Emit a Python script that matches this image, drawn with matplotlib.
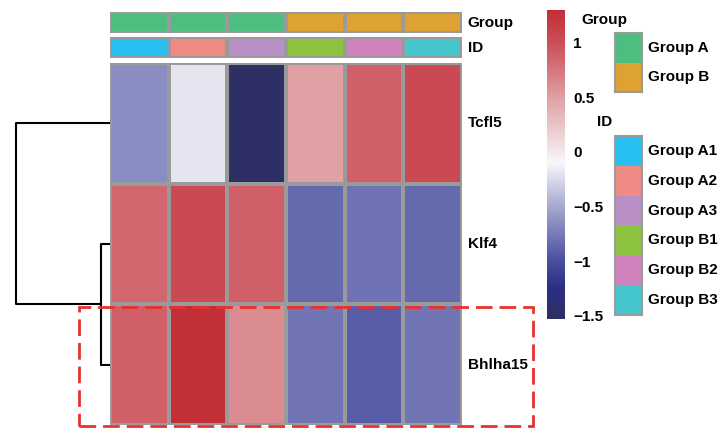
import numpy as np
import matplotlib.pyplot as plt
from matplotlib.colors import LinearSegmentedColormap, ListedColormap
from matplotlib.patches import Rectangle

plt.rcParams['font.family'] = ['Liberation Sans', 'DejaVu Sans']
plt.rcParams['font.weight'] = 'bold'

genes = ['Tcfl5', 'Klf4', 'Bhlha15']
samples = ['Group A1', 'Group A2', 'Group A3', 'Group B1', 'Group B2', 'Group B3']
sample_group = ['Group A', 'Group A', 'Group A', 'Group B', 'Group B', 'Group B']
values = np.array([
    [-0.65, -0.2, -1.5, 0.5, 0.9, 1.05],
    [0.85, 1.05, 0.9, -0.85, -0.8, -0.85],
    [0.9, 1.3, 0.62, -0.78, -0.92, -0.78],
])
group_names = ['Group A', 'Group B']
group_colors = ['#4dbd80', '#dda232']
id_colors = ['#26bff0', '#f08a85', '#b890c5', '#8dc33f', '#cf82bd', '#45c6cc']
# dendrogram merge heights: (Klf4, Bhlha15), then Tcfl5
merge_heights = [0.3, 3.0]
vmin, vmax = -1.53, 1.3
cbar_ticks = [1, 0.5, 0, -0.5, -1, -1.5]

W, H = 721, 428
fig = plt.figure(figsize=(W / 100, H / 100), dpi=100)


def px(x0, y0, x1, y1):
    return [x0 / W, 1 - y1 / H, (x1 - x0) / W, (y1 - y0) / H]


pts = [(vmin, '#2e2f62'), (-1.25, '#2b2f85'), (-1.0, '#4a4f9f'), (-0.5, '#a6a9d1'),
       (-0.1, '#f8f8fb'), (0.5, '#e0a0a4'), (1.0, '#cc4f58'), (vmax, '#c22f37')]
cmap = LinearSegmentedColormap.from_list(
    'hm', [((v - vmin) / (vmax - vmin), c) for v, c in pts])

edge = '#9a9a9a'
fs = 11
nr, nc = values.shape

# heatmap
ax = fig.add_axes(px(110, 63, 462, 425))
ax.pcolormesh(np.arange(nc + 1), np.arange(nr + 1), values, cmap=cmap,
              vmin=vmin, vmax=vmax, edgecolors=edge, linewidth=1.5)
ax.set_xlim(0, nc)
ax.set_ylim(nr, 0)
ax.axis('off')
for i, g in enumerate(genes):
    ax.text(nc + 0.1, i + 0.5, g, va='center', ha='left', fontsize=fs)

# annotation rows
gidx = [group_names.index(g) for g in sample_group]
for box, data, cols, label in [((110, 12, 462, 33), gidx, group_colors, 'Group'),
                               ((110, 37, 462, 58), list(range(nc)), id_colors, 'ID')]:
    a = fig.add_axes(px(*box))
    a.pcolormesh(np.arange(nc + 1), [0, 1], np.array([data]),
                 cmap=ListedColormap(cols), vmin=-0.5, vmax=len(cols) - 0.5,
                 edgecolors=edge, linewidth=1.5)
    a.set_xlim(0, nc)
    a.set_ylim(1, 0)
    a.axis('off')
    a.text(nc + 0.1, 0.5, label, va='center', ha='left', fontsize=fs)

# row dendrogram
d = fig.add_axes(px(14, 63, 110, 425))
c1 = (1.5 + 2.5) / 2
d.plot([0, merge_heights[0], merge_heights[0], 0], [1.5, 1.5, 2.5, 2.5], color='black', lw=1.5)
d.plot([0, merge_heights[1], merge_heights[1], merge_heights[0]], [0.5, 0.5, c1, c1],
       color='black', lw=1.5)
d.set_xlim(merge_heights[1] * 1.02, 0)
d.set_ylim(nr, 0)
d.axis('off')

# highlight box
fig.add_artist(Rectangle((79 / W, 1 - 426 / H), (533 - 79) / W, (426 - 307) / H,
                         transform=fig.transFigure, fill=False, edgecolor='#e8312f',
                         lw=2, linestyle=(0, (6, 2.5))))

# colorbar
cax = fig.add_axes(px(547, 10, 565, 319))
grad = np.linspace(vmin, vmax, 256).reshape(-1, 1)
cax.imshow(grad, aspect='auto', cmap=cmap, vmin=vmin, vmax=vmax, origin='lower',
           extent=[0, 1, vmin, vmax])
cax.set_xticks([])
cax.yaxis.tick_right()
cax.set_yticks(cbar_ticks)
cax.set_yticklabels([f'{t:g}'.replace('-', '\u2212') for t in cbar_ticks],
                    fontsize=fs, fontweight='bold')
cax.tick_params(axis='y', length=0, pad=6)
for s in cax.spines.values():
    s.set_visible(False)

# legends
for box, title_xy, names, cols, title in [((615, 33, 642, 92), (604, 20), group_names, group_colors, 'Group'),
                                          ((615, 136, 642, 315), (605, 122), samples, id_colors, 'ID')]:
    la = fig.add_axes(px(*box))
    n = len(names)
    la.pcolormesh([0, 1], np.arange(n + 1), np.arange(n).reshape(-1, 1),
                  cmap=ListedColormap(cols), vmin=-0.5, vmax=n - 0.5)
    la.set_xlim(0, 1)
    la.set_ylim(n, 0)
    la.set_xticks([])
    la.set_yticks([])
    for s in la.spines.values():
        s.set_edgecolor(edge)
        s.set_linewidth(1.5)
    for i, nm in enumerate(names):
        la.text(1.22, i + 0.5, nm, va='center', ha='left', fontsize=fs)
    fig.text(title_xy[0] / W, 1 - title_xy[1] / H, title, ha='center', va='center', fontsize=fs)

fig.savefig('out.png', dpi=100)
